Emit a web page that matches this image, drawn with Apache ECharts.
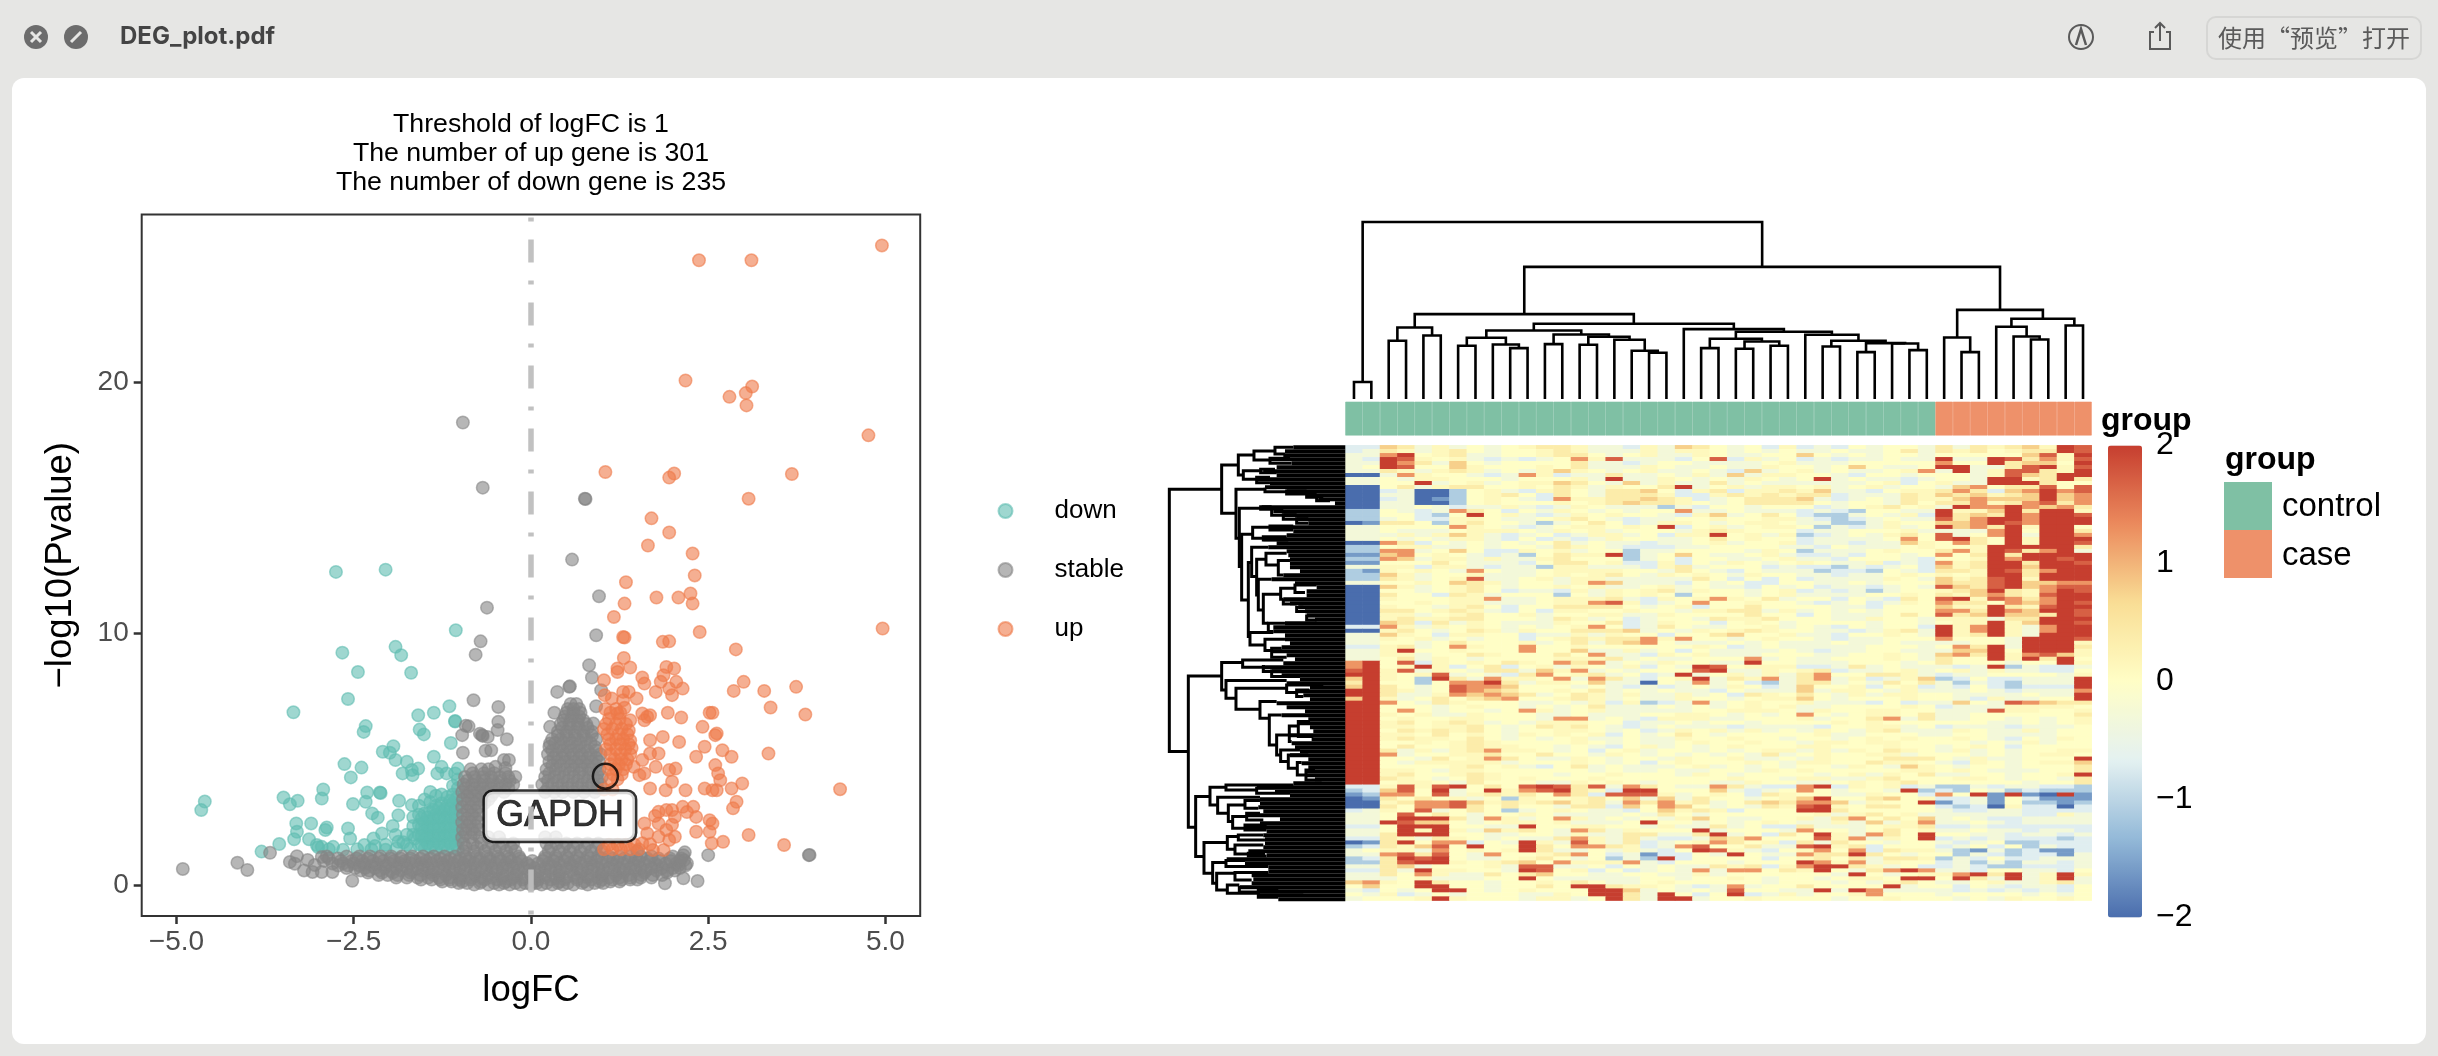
<!DOCTYPE html>
<html><head><meta charset="utf-8"><style>html,body{margin:0;background:#E6E6E4}#c{width:2438px;height:1056px}</style>
<script src="https://cdn.jsdelivr.net/npm/echarts@6/dist/echarts.min.js"></script></head><body><div id="c"></div>
<script>
const xTicks=[-5,-2.5,0,2.5,5], yTicks=[0,10,20];
const down=[-2.75,12.45,-2.05,12.54,-1.06,10.13,-1.91,9.47,-1.83,9.14,-2.66,9.24,-2.44,8.47,-1.69,8.44,-2.58,7.4,-3.35,6.87,-1.15,7.11,-1.37,6.85,-1.59,6.75,-1.07,6.52,-1.07,6.5,-2.33,6.32,-2.36,6.09,-1.57,6.18,-1.51,5.99,-1.13,5.65,-1.94,5.52,-2.09,5.3,-1.99,5.26,-1.91,4.97,-1.37,5.1,-1.75,4.9,-2.63,4.81,-2.39,4.67,-2.54,4.28,-1.81,4.44,-1.68,4.57,-1.67,4.37,-1.59,4.63,-1.32,4.44,-1.26,4.7,-1.19,4.44,-1.07,4.44,-1.03,4.63,-2.93,3.8,-2.95,3.44,-3.49,3.48,-3.29,3.35,-3.4,3.21,-4.6,3.32,-4.65,2.98,-2.31,3.68,-2.13,3.68,-2.12,3.66,-2.51,3.22,-2.33,3.31,-1.86,3.35,-1.68,3.18,-2.24,2.85,-2.16,2.68,-1.87,2.78,-3.31,2.45,-3.1,2.45,-2.88,2.29,-2.9,2.19,-3.3,2.12,-3.34,1.82,-3.55,1.63,-3.8,1.33,-3.13,1.82,-3.02,1.59,-2.95,1.52,-2.79,1.52,-2.58,2.25,-2.55,1.85,-2.35,1.59,-2.22,1.85,-2.1,2.05,-1.91,1.99,-1.87,1.72,-1.64,1.85,-2.05,1.6,-2.2,1.55,-1.75,1.6,-1.75,2.0,-1.8,1.7,-1.9,1.45,-2.05,1.4,-2.25,1.42,-2.45,1.42,-2.65,1.4,-2.85,1.42,-3,1.5,-1.7,1.45,-1.95,2.35,
-1.03,1.4,-1.03,1.75,-1.03,2.1,-1.03,2.45,-1.03,2.8,-1.03,3.15,-1.03,3.5,-1.03,3.85,-1.03,4.2,-1.1,1.5,-1.1,1.85,-1.1,2.2,-1.1,2.55,-1.1,2.9,-1.1,3.25,-1.1,3.6,-1.1,3.95,-1.18,1.4,-1.18,1.75,-1.18,2.1,-1.18,2.45,-1.18,2.8,-1.18,3.15,-1.18,3.5,-1.26,1.5,-1.26,1.85,-1.26,2.2,-1.26,2.55,-1.26,2.9,-1.26,3.25,-1.26,3.6,-1.34,1.4,-1.34,1.75,-1.34,2.1,-1.34,2.45,-1.34,2.8,-1.34,3.15,-1.34,3.55,-1.42,1.5,-1.42,1.85,-1.42,2.2,-1.42,2.55,-1.42,2.9,-1.42,3.3,-1.42,3.7,-1.5,1.45,-1.5,1.8,-1.5,2.15,-1.5,2.5,-1.5,2.85,-1.5,3.4,-1.58,1.6,-1.58,2.0,-1.58,2.4,-1.58,2.8,-1.58,3.15,-1.66,2.0,-1.66,2.35,-1.66,2.7,
-1.06,1.6,-1.06,2.0,-1.06,2.35,-1.06,2.7,-1.06,3.05,-1.06,3.4,-1.14,1.65,-1.14,2.0,-1.14,2.35,-1.14,2.7,-1.14,3.05,-1.14,3.35,-1.22,1.6,-1.22,1.95,-1.22,2.3,-1.22,2.65,-1.22,3.0,-1.3,1.65,-1.3,2.0,-1.3,2.35,-1.3,2.7,-1.3,3.05,-1.38,1.6,-1.38,1.95,-1.38,2.3,-1.38,2.65,-1.38,3.0,-1.46,1.65,-1.46,2.0,-1.46,2.35,-1.46,2.7,-1.54,1.6,-1.54,1.95,-1.54,2.3,-1.54,2.65];
const stableSparse=[-0.96,18.39,-0.68,15.8,0.76,15.36,0.77,15.35,0.58,12.94,-0.62,11.03,0.96,11.48,0.92,9.93,-0.71,9.69,-0.78,9.16,0.82,8.74,0.86,8.25,0.54,7.88,0.55,7.9,0.37,7.68,0.99,7.75,-0.81,7.35,-0.46,7.08,-0.46,6.49,-0.92,6.33,-0.88,6.31,-0.97,5.96,-0.69,5.96,-0.68,5.93,-0.72,6.02,-0.61,5.89,-0.34,5.8,-0.47,6.16,-0.64,5.34,-0.56,5.36,-0.96,5.26,-0.38,4.97,-0.31,4.97,-0.5,4.7,-0.36,4.65,0.33,6.85,0.27,6.29,0.27,5.63,0.92,7.11,0.88,6.42,-4.91,0.64,-4.14,0.89,-4,0.6,-3.68,1.28,-2.52,0.17,2.5,1.19,3.92,1.19,3.93,1.2,2.35,0.16,1.89,0.07,2.15,0.27,2.15,1.19,2.16,0.99,2.17,1.3,-3.4,0.92,-3.3,1.15,-3.33,0.85,-3.2,0.58,-3.08,0.52,-2.95,0.52,-2.8,0.52,-2.95,1.12,-3.15,1.0,-3.05,0.8];
const stableBand=[
[0.02,[-0.8,-0.6,-0.45,-0.3,-0.15,0,0.15,0.3,0.45,0.6,0.8]],
[0.08,[-1.02,-0.9,-0.72,-0.52,-0.38,-0.22,-0.08,0.08,0.22,0.38,0.52,0.72,0.9,1.02]],
[0.14,[-1.25,-1.12,-0.97,-0.7,-0.35,0.05,0.4,0.75,0.97,1.12,1.25]],
[0.22,[-1.55,-1.4,-1.28,-1.15,-1,-0.85,-0.65,-0.47,-0.28,-0.12,0.1,0.28,0.47,0.65,0.85,1,1.15,1.28,1.4,1.5]],
[0.3,[-1.9,-1.75,-1.6,-1.45,-1.3,-1.15,-1,-0.85,-0.7,-0.55,-0.4,-0.25,-0.1,0.05,0.2,0.35,0.5,0.65,0.8,0.95,1.1,1.25,1.4,1.55,1.7]],
[0.4,[-2.15,-2.02,-1.88,-1.72,-1.56,-1.38,-1.2,-1,-0.8,-0.6,-0.4,-0.2,0,0.2,0.4,0.6,0.8,1,1.2,1.38,1.56,1.72,1.85]],
[0.5,[-2.3,-2.1,-1.95,-1.7,-1.4,-1.1,-0.8,-0.5,-0.2,0.1,0.4,0.7,1,1.3,1.6,1.92]],
[0.58,[-2.4,-2.28,-2.13,-1.98,-1.83,-1.68,-1.53,-1.38,-1.23,-1.08,-0.93,-0.78,-0.63,-0.48,-0.33,-0.18,-0.03,0.12,0.27,0.42,0.57,0.72,0.87,1.02,1.17,1.32,1.47,1.62,1.77,1.92,2.03]],
[0.68,[-2.6,-2.48,-2.34,-2.2,-2.06,-1.9,-1.75,-1.6,-1.45,-1.3,-1.15,-1,-0.85,-0.7,-0.55,-0.4,-0.25,-0.1,0.05,0.2,0.35,0.5,0.65,0.8,0.95,1.1,1.25,1.4,1.55,1.7,1.85,2.0,2.1]],
[0.78,[-2.72,-2.58,-2.42,-2.25,-2.05,-1.82,-1.52,-1.22,-0.92,-0.62,-0.32,-0.02,0.28,0.58,0.88,1.18,1.48,1.78,2.08,2.18]],
[0.86,[-2.8,-2.65,-2.5,-2.35,-2.18,-2,-1.85,-1.7,-1.55,-1.4,-1.25,-1.1,-0.95,-0.8,-0.65,-0.5,-0.35,-0.2,-0.05,0.1,0.25,0.4,0.55,0.7,0.85,1,1.15,1.3,1.45,1.6,1.75,1.9,2.05,2.2]],
[0.96,[-2.92,-2.68,-2.53,-2.38,-2.23,-2.08,-1.93,-1.78,-1.63,-1.48,-1.33,-1.18,-1.03,-0.88,-0.73,-0.58,-0.43,-0.28,-0.13,0.02,0.17,0.32,0.47,0.62,0.77,0.92,1.07,1.22,1.37,1.52,1.67,1.82,1.97,2.1]],
[1.06,[-2.85,-2.72,-2.46,-2.3,-2.14,-1.98,-1.84,-1.7,-1.56,-1.42,-1.28,-1.14,-1,-0.86,-0.72,-0.58,-0.44,-0.3,-0.16,0.2,0.36,0.52,0.68,0.84,1,1.16,1.32,1.48,1.64,1.8,1.96,2.12]],
[1.14,[-2.88,-2.6,-2.42,-2.27,-2.12,-1.97,-1.82,-1.67,-1.52,-1.37,-1.22,-1.07,-0.92,-0.77,-0.62,-0.47,-0.32,-0.17,0.2,0.35,0.5,0.65,0.8,0.95,1.1,1.25,1.4,1.55,1.7,2.0]],
[1.35,[-0.95,-0.8,-0.65,-0.5,-0.35,-0.22,0.25,0.4,0.55,0.7,0.85,1.0,1.5]],
[1.5,[-0.92,-0.76,-0.6,-0.44,-0.28,0.28,0.46,0.6,0.76,0.92]],
[1.65,[-0.95,-0.82,-0.7,-0.55,-0.4,-0.25,0.22,0.36,0.5,0.65,0.8,0.95]],
[1.9,[-0.97,-0.85,-0.73,-0.6,-0.45,0.2,0.35]],[2.05,[-0.92,-0.8]],[2.2,[-0.96,-0.83,-0.72]],[2.35,[-0.9,-0.78]],[2.5,[-0.97,-0.86,-0.74]],[2.65,[-0.9,-0.78]],[2.8,[-0.96,-0.83,-0.72]],[2.95,[-0.9,-0.78]],[3.1,[-0.97,-0.85,-0.74]],[3.25,[-0.9,-0.78,-0.66]],[3.4,[-0.96,-0.84,-0.72,-0.6]],[3.55,[-0.9,-0.78,-0.68,-0.56]],
[3.7,[-0.97,-0.86,-0.75,-0.64,-0.52,-0.38,0.2,0.33,0.45,0.6,0.75,0.9]],[3.85,[-0.92,-0.8,-0.68,-0.56,-0.44,-0.32,0.24,0.38,0.52,0.66,0.8,0.94]],
[4.0,[-0.95,-0.83,-0.72,-0.6,-0.48,-0.36,-0.25,0.16,0.3,0.44,0.58,0.72,0.86,0.98]],[4.15,[-0.9,-0.78,-0.66,-0.54,-0.42,-0.3,0.24,0.38,0.52,0.66,0.8,0.94]],
[4.3,[-0.93,-0.8,-0.68,-0.56,-0.44,-0.32,-0.22,0.2,0.33,0.46,0.6,0.74,0.88,1.0]],[4.45,[-0.82,-0.66,-0.52,-0.36,0.26,0.4,0.54,0.68,0.82,0.94]],
[4.6,[-0.85,-0.7,-0.6,0.22,0.35,0.48,0.6,0.72,0.85,0.97]],[4.75,[0.3,0.42,0.56,0.68,0.8,0.92]],
[4.9,[0.26,0.38,0.5,0.62,0.74,0.86,0.96]],[5.05,[0.32,0.44,0.56,0.68,0.8,0.92]],[5.2,[0.24,0.36,0.48,0.6,0.72,0.84,0.98]],[5.35,[0.3,0.44,0.56,0.68,0.8,0.92]],[5.5,[0.26,0.4,0.52,0.64,0.76,0.9]],[5.65,[0.34,0.46,0.58,0.7,0.84]],[5.8,[0.3,0.42,0.54,0.66,0.78,0.92]],[5.95,[0.38,0.5,0.62,0.74,0.86]],[6.1,[0.38,0.5,0.62,0.74,0.86]],[6.25,[0.44,0.56,0.68,0.8]],[6.4,[0.42,0.54,0.66,0.78]],[6.55,[0.46,0.56,0.66,0.74]],[6.7,[0.48,0.58,0.68]],[6.85,[0.5,0.6,0.7]],[7.0,[0.52,0.6,0.68]],[7.2,[0.56,0.64]]];
const up=[4.95,25.43,2.37,24.84,3.11,24.84,2.18,20.06,3.12,19.82,3.03,19.56,2.8,19.41,3.04,19.07,4.76,17.88,1.05,16.42,2.02,16.36,1.95,16.2,3.68,16.34,3.07,15.36,1.7,14.58,1.95,14.02,1.65,13.5,2.28,13.18,2.31,12.31,1.34,12.04,1.77,11.43,2.08,11.43,2.25,11.59,2.28,11.19,1.32,11.19,1.17,10.66,4.96,10.2,2.38,10.06,1.3,9.86,1.32,9.84,1.86,9.67,1.95,9.69,2.89,9.37,1.31,9.03,1.22,8.61,1.4,8.65,1.22,8.47,1.91,8.67,2.02,8.61,1.87,8.34,1.57,8.25,1.83,8.08,2.05,8.08,1.6,8.01,2.14,7.81,1.76,7.68,1.95,7.81,1.99,7.55,3,8.08,2.86,7.72,3.29,7.72,3.74,7.88,3.38,7.06,3.87,6.78,1.3,7.68,1.38,7.68,1.49,7.42,1.03,8.14,1.04,7.55,1.14,7.42,1.3,7.35,1.22,6.82,1.57,6.82,1.68,6.75,1.64,6.69,1.6,6.55,1.93,6.85,2.12,6.66,2.42,6.29,2.52,6.85,2.56,6.85,2.6,5.96,2.62,6.03,2.45,5.5,2.33,5.1,2.7,5.36,2.83,5.1,3.35,5.23,2.6,4.77,2.64,4.44,2.67,4.17,2.62,3.77,2.56,3.77,2.45,3.84,2.83,3.84,2.98,4.04,4.36,3.81,2.18,3.77,1.68,3.84,1.9,3.77,1.99,4.11,1.68,5.76,1.86,5.89,2.09,5.69,1.57,4.97,1.68,5.23,1.8,5.23,1.76,4.7,1.95,4.57,2.04,4.63,1.45,4.7,1.53,4.37,1.6,4.44,2.9,3.31,2.85,3.05,2.29,3.11,2.14,3.11,1.91,2.98,1.8,2.91,2.03,2.71,2.33,2.71,2.56,2.45,2.52,2.58,2.33,2.12,2.52,2.12,2.71,1.72,2.55,1.66,3.07,1.99,3.57,1.59,2.03,1.92,1.91,2.19,1.8,1.92,1.95,1.79,1.72,1.39,1.87,1.39,1.6,2.45,1.8,2.45,1.99,2.98,1.64,2.05,1.57,1.66,1.68,1.62,1.99,2.4,1.75,2.75,2.2,2.9,
1.05,7,1.2,7,1.32,7.05,1.1,6.6,1.25,6.6,1.4,6.55,1.03,6.2,1.15,6.2,1.28,6.2,1.38,6.15,1.1,5.8,1.2,5.8,1.3,5.8,1.4,5.75,1.06,5.4,1.2,5.4,1.33,5.4,1.42,5.45,1.18,5,1.28,5,1.36,5,1.1,4.6,1.2,4.6,1.3,4.6,1.12,4.2,1.22,4.2,1.03,3.8,1.15,3.8,1.03,1.42,1.15,1.42,1.27,1.42,1.4,1.42,1.52,1.42,1.1,1.6,1.22,1.6,1.34,1.6,1.46,1.6,1.12,6.85,1.26,6.85,1.06,6.4,1.2,6.4,1.34,6.4,1.08,6,1.24,6,1.36,6,1.12,5.6,1.26,5.6,1.38,5.6,1.12,5.2,1.26,5.2,1.4,5.2,1.12,4.8,1.24,4.8,1.34,4.8,1.16,4.4,1.28,4.4];
const gapdh=[1.05,4.33];
const columnGroup=["control","control","control","control","control","control","control","control","control","control","control","control","control","control","control","control","control","control","control","control","control","control","control","control","control","control","control","control","control","control","control","control","control","control","case","case","case","case","case","case","case","case","case"];
const heatRows=[
"DD IHEGEFEF GHHGEEDG EIHFEFDG DEDFEFFE HEHGHIGLK","DE HGEGHFEF FGHGEEEG EGGFEFEF EEFEEFHE HGHFGHHLK","EE JLFGHEEF FGHHFEFG EEGFEEFF IFEFEFFE FFFFFIKGL","ED LKGFGEDE DEFJGKEE EDFKDGEF DEDEEFEE LEELKHJGK","EE LJHEIFEF FFFHEEDE FFEEEEFG EEEFFFFF JFFLHIIFL","EF LKFFIGFF FGFHEEEG FEEFEEGF FEFIFEEF LLEEHKLGK","EE HGEGHGEF EGIGFEFG EEFEDIEF GEFEEFGJ ELEGKKHGL","AA EJGFFEDE JGDEEHEE FEGEIEGG FFEDFFEF FFEGKIHLL","EE FEGGFFFE FFFGELEE GFEFEGFE FLEFEEDE FFELLGHLH","EE FFLEFGEF GGIHFEIE GEEHEFEE EEEEFGDF GEELLLHFF",
"AA FHEGHHFF GFHGEGFF HLEFGEGG FGEFGEFF EIJFHHKFK","AA DEAACFGE DGHFEHHI FDGHDGGH GIEEDFGG HJHDIJLJK","AA EEAACFGH FDHFEHHH GDDGHGHG HHDEEEHG IHIGHILIJ","AA DEABCFGF EDJGGHHI HGDEFHHH IEDEFEHG GIJIIILIJ","AA EEAACFGF FFGFGHIH HGFEFHHH HFEFFEHF HHJGHJKHJ","AA EEFEDEEG EDEGFEEE CEDFFEFF FDEFGHFG ELJJLJIJH","CC FEDEJHFD FEGFEFEF FJEEFEEE DEDCFFEE LGGILHLLG","CC FFDCFLFG EDEGFGFF EDGIEFHF DCCEFEGD LHIHLJLLK","CC EFDDGGFE EFGHFEDE EFFGFFGG EDCDEFEE KHJLLJLLL","AB HHFCGHFF ECEFHFDE GGFEFGGF EECCEGFF IIJLKJLLL",
"EE FFFFJGFE DEFGGFGF LDFGEFGG FCEDEGEF LIJHLGLLF","EE FEEEFGGG FEGFGEFF FEGHGFFF DEEFFFGE EEEJLFLLH","EE EGEGIGED EFDEGGEF DGGLFGEG CDEFEGHF KEFJLELLJ","EE FEFEGGED FDEDEGFF EEFHFGFF DEEEEFJF KLHFLGLLL","AA JHDFEFEF EFHEFEED EEFGEFFG DEEDEEIG FJHFLGLLK","CC FGGEEFEF FEHGFEDD DEEFFFFE EDFEEEFG FFGLLLLLH","CC JJEFIFDD GFGEFFCE EFFFFEGF CEEEFGFF HJGLKHJLE","BB IJFGFEDE CFHGGLCE FIFEEFGE DDEDFFEF JFHLHLLLL","CC JIEGGEGE EGHFFFCE FDFFEEFG EEDFFFED FFGLJLLKL","BB FFFHFEEE DFHHFGDD GDFEGFEF GFEEGDED JGHLLHLLK",
"EE GGDGGEDE ECGGEEED GHEFFFDE DDCEDEFD IGHLLILLL","CB GFGFEJFE EFGGGGFF EHFEDFEE ECDDCFED HHGLKHJLL","CC IGEFFGEE EFGFGHFE GFGFEGFF EEDEEFGF GFGLLHLLL","CC HGEFGKEE FGEGGEEE EEHFDFDF DEEEEGFE IGHKLGLLL","EE FFGFIHGE FFEGJIEE EDFEFDDF FEEFEFFF IHHKLIIJJ","AA IGEFGHFE FFGFGEEF GEFEEDFE FDEEDEFE KIHKLIJKK","AA FFEFGHFD EEDGEGFG HEGFFEFG DEDECEFF GHILHGJLK","AA HFFDHGEF FFCFEGFG FCFFFEFG EEEEFFGF HGIJHGKLL","AA GFFFGGJE EFGGGHED GFGJGFHE FFDFEDHF KLGKJHJLL","AA FFGFGGEE EFGGJKGD EFJFFGFF EDEFDEGF JHHFJIJLK",
"AA GFFEGHFD FFHHHHFE FGDFFHFF FFEEDFFF IGGLHGKLL","AA HHFGHGED FDGGFFGF FEGGHHEG EFEFEFFF JJHLJILLK","AA GGEFGHFF GEFFGGEE GFFFFHFF DFEEEFHF KHILIIHLK","AA GHGGHHFF FEHGEFDE FFEHGGHF FFEEGFFE GGGEHHLLL","AA IHDHEGFE EEGFFHDE GFFDFGFE FFFFEFFE FGGLGILLK","DD JGEGFGFE FEFGJFDE HFEEFFGE FEDFEFFD LGJLGEJLL","AA GHFEFHGE GFFHHHIE FEGFGHGF FEEDEGHE LGJLGEJLL","EE IGFDGGFF DEEGEGFF DFFHIFFG EEDFFGFE LGHLGELLL","EE GFGEFEFF DFGHGHHJ GJFFEFGF FEDEEFFF JFFFELLLK","EE FFEFHFFF GEFHEHIJ FEEEFEFE EEFEEFEE EEFFELLLG",
"DD GHEFJGFF JFFGFFFF FFGFDEFE EEEEFFFE FJHLELLLH","EE GLFFGFFF JFFIEEGE FDFEEEEF EDEEFFEE EIILFLLLG","EE GGEFFHGF FFHFJEED GFGEEEFF FEEFFGFE IJHLGJKIG","EE FHEGFEFF FFGGGHEF EEFFFJEF EEFFFGFE HFFLGLHLF","JL FKDGFGFH GFJHJEFE GFFEELFF EEEFFFEF HFFFEFFLG","JL FGLGDFHD FGEGFEGD FELKFGGG DDEHEFEE EDELCEDDE","KL GKEGFEHH EIGJEFEF FFKLEEGF GHDEEFGE FGEGEEDDF",
"LL GFGKEFED HJFGHEFD ELEFGEGE HJFFHHGE DEEFFFFEG","IL GFCLHEJG GFJEJHED FGLEHGJE HJEGDEGI CDFDDEEEL","HL FFCFJJLH EGGFIEEA FEJEFDCE HHEFEHFH ECEDCEEEL","IL HFEFKJJI FFFEFEDE DEFEGFDE IFFGDFGD EDFDCDDDL","LL HGEFKJIH FFGFHEFE FEEDFEEE IEGGFEGE EEFEDEEEJ","LL HEEGJIJI HEFHGEGE EGEFDHGF HFEGEGGF FEEEEFEEL","IL GEFHFHIJ FFGHGEFE EGFFEFGG IFEFFFGF FEDGEEFFL","LL JFEHGFFF EEFEGDGC DEJEFGFF GEEEDFDE EIFEKJIHH","LL FFFEFGFF EFEFHEEE FEFEFGFG EEFFFFGF DEEEGGGGF","LL FJFEFFEF JGEFGEEE EEFFGGGF EGFFGGFF EEEKGGFFG",
"LL GFGEEGFF FEEFEEEF FGGFEFEF JFEFGGFH EEFFFFFFH","LL FGFFGGFF FEJJEFED GGGEEFFF GEFFHJEH EEFFEFEFG","LL GHFGHGEF EGGGFFDE EFEFFEFF FFGFGFFF FFFEEFEFG","LL GGFGGHFE FHGHFEDE FEEEDEEE EDFFGGEF DEEEDEEEF","LL FHGHGHFE FFGGFEFD EGFGEGEF EGFEGHEE EGFEEGEFF","LL GGFHFGFE GFGFGDFE FHFEFFFF FGEEFFFE EFFEEEEFF","LL GHGGFHFE FEFGEEFE EGFFGFFE FFEFGFGF FGFEDFEGF","LL FFGFGHGF FFFGFEFE EFGFFGFF EGGFGGFF FFEFEGEFF","LL FHFFGHGG FFEFEDFG EFEFGFFF GGFFFGFF EFGFDFFFF","LL HEGEGHJG GFEFDFGE FFEFEFGG EGEGFHGF EGEFEFFGG",
"LL JEFFGGHF FHFFEGFE FEFEFEHE FGFFGGEF FFEFEFGGF","LL FFEHFGJH FEEGFEFF EGFFGEEF EGFFFHHH FEGEEFFFL","LL FEGGGGGE FFFGFEFD FGFFFGFE GGFFHGGF EDGFEFGGI","LL FFFFGHFG EDFHEFEE EFGEFEFE FFEGFEIG FEFFEFFFH","LL GGFEGGFF FFFFEFEE FEEFFEGF GFFFFFGG FGFEEEFFH","LL GHFFGHGF FFEFFGFF FEGFEFFF FEFGEGFH EEFFEFFGL","LL HGFEFHGF GFFFGFFF FFFFGFFE GGEEGHFF FGGFEFFEH","LL FGGFEHFF FEEGFGFE FFFEEGFF EEFGFGHF FFFFFEFFH","DD GKGKLFHF KLKHKEJH FEEJHEDD JLDGFGDE CCEDEEDDC","CD IKFLEFLG JKLHGDLL FFFIEDEF JFEFFELC DCFECDCCC",
"BC JJFKEGHG HFJHDKKK GEFGFDHG FFEEGFFD JFLBLBALB","AB HFHFGEFC GFFGHFIE IEHFFEFG ILFFHIFG DDEBFDBBB","AA GHJJKIGH GHIGHEJH JGHEFHIH JJIEGFFL BDEBFCCBC","AA HFJJKHFH FFEHHDIF JIFEFEHG KLGFHHFF DCDAGDDAD","DE GFKEFHFC EFGFEEDF IGHGDFFF LLHFFFFF EDDEEDDDD","EE FKFHFEFF GFEEEEFE HFEFFFFF FGEGHFGE EEEEEDDGE","EE FLLLHEJG EFJGEFEF EGIFEEFF GEHJFHFI EFEDDEEEE","EE LKIIFEFG GFGEEEFL FFEFEFGF EEGEIEGJ EEFEDEEEE","DD FLLLFFEE LFFGGFFE GEEHEFDD HEEEFGGH DDEDDDDDD","EE FLGLGEIG HFEJHEGF FFLEFFFE JFFEFHFG EEFEEDEED",
"EE HLLLFFEE FFEGEEHH EEHLEFDH FLGEJHFL FFEEDEEDE","DD HGEHGFEF EEHJGEHE DDEIHJFF FKGJEGFL DEDEDDDCD","AB HLFJJDFE LGEKGEHD EFGJHFGD HEHFFEFF EDEFCCDDD","CD HGIKFLFF LHFJJHGD EJKFFHEE KLGHDFFF DEFDFCEDD","EF GGEJFGFG LHEEFEGE DFLKGEDF GJFJDHGG ECBECDBBD","EE JKHKFEJF FGHJFDEB DDFELFEE JHHLHFEF FCEDCDDBE","CD HLKLFEEF GHFEFCEC LDFFFFDF GHFHEHHG CEDFDDEEE","CC HKLLGFGH IFJGGGJE DFFFEFFF LJGJEGFF DECECEEDE","EE HIEFFFGE KKEEFDFE FEEHGHDG JLLHGEFD DEDCCDDDE","DD HELGGFFE LKFGDFDE FEJEJJFH GLFEHJLJ EEDFFEEDF",
"EE HFJGEEHF HIFFEEFF EEGEFFFF FFELFEFG GJLHLEGLG","EE EFGEEEFF LFEEEEEF FEFFGFEF FEFGGFLL FLHELEGLE","IJ GFLHFFEF FGFHFEEF GFFFFFEF FFEFEGHF EEFGEEGHE","FI FFLLFFEF FHFLLHGG FEDEJEFF HFFFFLEF FDFEDEEDF","ED FEFLLFEF GFFFLLIE FEFEKFFE ELELJEEE EDEDEDEDF","FE GDEFEFFF EEGFLLHE LFDFLDEG EFFGJFFF EFFFFEFEF","EF FFGLGFFF EGGEFLHE LLEFFGFF FFEFFGFF FEFEGFFGF"];
const levelValues={A:-2,B:-1.6,C:-1.1,D:-0.7,E:-0.3,F:0,G:0.12,H:0.38,I:0.78,J:1.25,K:1.7,L:2};
const heatColors=["#4A6DAD","#93B9D8","#E4F1F1","#FFFEC6","#F9DE95","#EB8A5D","#C63E2F"];
// column dendrogram: [left, right, height]; negative = -(merge index + 1)
const columnMerges=[[0,1,547],[2,3,423],[4,5,407],[-2,-3,383],[6,7,438],[9,10,445],[8,-6,434],[-5,-7,414],[11,12,433],[13,14,435],[17,18,459],[16,-11,453],[15,-12,420],[-10,-13,411],[-9,-14,404],[-8,-15,392],[20,21,445],[22,23,447],[24,25,438],[-18,-19,425],[-17,-20,417],[27,28,440],[29,30,457],[32,33,451],[31,-24,431],[-23,-25,430],[-22,-26,423],[26,-27,405],[-21,-28,396],[19,-29,388],[-16,-30,372],[-4,-31,343],[35,36,457],[34,-33,413],[39,40,419],[38,-35,410],[37,-36,381],[41,42,377],[-37,-38,357],[-34,-39,330],[-32,-40,201],[-1,-41,66]];
// row dendrogram brackets: [depth, topPos, topDepth, bottomPos, bottomDepth]
const rowBrackets=[[58,148,215,935,115],[215,75,265,220,258],[265,45,312,105,280],[312,33,375,60,360],[375,22,430,42,405],[360,55,420,70,425],[280,92,332,118,320],[332,88,375,98,380],[320,112,360,128,360],[258,148,345,295,268],[345,143,345,155,410],[410,153,470,162,470],[470,160,500,172,500],[500,170,520,182,540],[268,205,332,380,275],[332,200,365,208,370],[365,206,400,226,400],[400,224,440,238,440],[440,236,475,250,475],[275,283,308,480,295],[308,262,360,295,340],[360,258,430,270,430],[340,290,410,300,415],[295,368,305,590,300],[305,322,355,410,320],[320,358,348,465,325],[348,340,410,375,385],[385,362,420,405,400],[325,418,365,510,340],[340,463,392,550,355],[392,445,435,478,400],[435,435,500,458,465],[400,480,420,492,440],[440,502,460,515,470],[470,528,495,540,500],[355,550,405,575,370],[300,578,370,615,345],[345,598,405,632,365],[365,625,395,652,410],
[115,708,215,1162,137],[215,668,278,750,228],[278,660,400,682,340],[340,680,345,695,365],[365,693,395,710,450],[228,722,410,775,258],[258,745,410,808,330],[410,735,520,758,440],[440,750,478,770,460],[330,785,380,835,358],[358,825,395,915,380],[380,885,418,945,392],[418,858,445,905,425],[445,845,480,890,490],[392,930,450,965,415],[415,945,475,985,442],[442,968,455,1005,468],[468,990,495,1020,515],
[137,1070,180,1250,162],[180,1042,228,1095,203],[228,1035,430,1050,320],[320,1045,375,1060,420],[203,1072,330,1120,235],[235,1095,285,1145,248],[285,1082,330,1105,325],[248,1130,290,1165,285],[290,1120,330,1140,340],[285,1155,350,1170,350],[162,1208,232,1300,188],[232,1190,265,1228,255],[265,1185,340,1200,345],[255,1215,340,1242,295],[295,1240,345,1248,350],[188,1268,228,1330,200],[228,1262,285,1280,355],[200,1300,255,1350,232],[255,1298,355,1320,305],[232,1335,268,1360,325],[268,1342,305,1356,460],[325,1352,385,1372,385]];
const rowLeafStart=[430,405,400,360,425,380,340,380,320,360,345,410,470,505,555,335,370,400,440,475,360,430,410,340,380,355,410,415,420,420,420,450,400,365,435,500,470,470,400,420,445,465,470,495,405,370,370,405,405,420,395,365,410,435,400,340,365,395,450,410,480,440,460,480,380,410,465,395,475,445,480,490,420,485,425,435,450,420,475,455,475,470,470,495,430,320,375,420,330,330,325,340,290,390,330,285,350,340,345,345,340,295,350,230,285,355,355,305,310,305,270,325,325,385];

const pairs=a=>{const o=[];for(let i=0;i<a.length;i+=2)o.push([a[i],a[i+1]]);return o;};
const stable=pairs(stableSparse);stableBand.forEach(([y,xs])=>xs.forEach(x=>stable.push([x,y])));
const heatData=[];heatRows.forEach((s,r)=>{[...s.replace(/ /g,'')].forEach((c,j)=>heatData.push([j,r,levelValues[c]]));});
const nodePos=[];const colSegs=columnMerges.map((m,k)=>{
 const p=v=>v>=0?[v+0.5,598]:nodePos[-v-1];const a=p(m[0]),b=p(m[1]);nodePos[k]=[(a[0]+b[0])/2,m[2]];
 return [a[0],a[1],a[0],m[2],b[0],m[2],b[0],b[1]];});
const rowSegs=rowBrackets.map(b=>[b[2],b[1],b[0],b[1],b[0],b[3],b[4],b[3]]);
const polyItem=w=>(p,api)=>{const pts=[];for(let i=0;i<8;i+=2)pts.push(api.coord([api.value(i),api.value(i+1)]));
 return {type:'polyline',shape:{points:pts},style:{stroke:'#000',lineWidth:w,fill:null},silent:true};};
const fmtMinus=s=>String(s).replace('-','\u2212');
const F='Liberation Sans';
const hidden=(g,extra)=>Object.assign({gridIndex:g,show:false},extra);
const dot=(name,data,color)=>({name,type:'scatter',xAxisIndex:0,yAxisIndex:0,data,symbolSize:12.5,itemStyle:{color,opacity:0.6,borderColor:color,borderWidth:1.5},silent:true,animation:false});
const option={animation:false,backgroundColor:'#E6E6E4',textStyle:{fontFamily:F},
title:{text:'Threshold of logFC is 1\nThe number of up gene is 301\nThe number of down gene is 235',left:531,top:110,padding:0,textAlign:'center',textStyle:{fontFamily:F,fontSize:26.7,lineHeight:29,fontWeight:'normal',color:'#000'}},
legend:{data:['down','stable','up'],orient:'vertical',left:997.5,top:498,padding:0,itemWidth:58,itemHeight:14,itemGap:33,selectedMode:false,textStyle:{fontFamily:F,fontSize:26,color:'#000',padding:[0,0,0,15]}},
grid:[{left:141.7,top:214.5,width:778.5,height:701.5,show:true,borderColor:'#333',borderWidth:2,backgroundColor:'#fff'},
{left:1345.3,top:222,width:746.4,height:177},{left:1345.3,top:401.7,width:746.4,height:33.8},{left:1150,top:445.3,width:195.3,height:455.3},{left:1345.3,top:445.3,width:746.4,height:455.3},{left:2108,top:445.5,width:34,height:472}],
xAxis:[{type:'value',min:-5.49,max:5.49,splitLine:{show:false},axisLine:{show:false,onZero:false},axisTick:{show:true,length:8,lineStyle:{color:'#333',width:2.5},customValues:xTicks},axisLabel:{customValues:xTicks,fontSize:28,color:'#4D4D4D',margin:12,formatter:v=>fmtMinus(v.toFixed(1))},name:'logFC',nameLocation:'middle',nameGap:56,nameTextStyle:{fontSize:36.5,color:'#000'}},
hidden(1,{type:'value',min:0,max:43}),hidden(2,{type:'category',data:columnGroup.map((g,i)=>i)}),hidden(3,{type:'value',min:0,max:586}),hidden(4,{type:'category',data:columnGroup.map((g,i)=>i)}),hidden(5,{type:'value',min:0,max:1})],
yAxis:[{type:'value',min:-1.23,max:26.66,splitLine:{show:false},axisLine:{show:false,onZero:false},axisTick:{show:true,length:8,lineStyle:{color:'#333',width:2.5},customValues:yTicks},axisLabel:{customValues:yTicks,fontSize:28,color:'#4D4D4D',margin:13},name:'\u2212log10(Pvalue)',nameLocation:'middle',nameGap:62,nameTextStyle:{fontSize:36.5,color:'#000'}},
hidden(1,{type:'value',min:66,max:598,inverse:true}),hidden(2,{type:'value',min:0,max:1}),hidden(3,{type:'value',min:16,max:1382,inverse:true}),hidden(4,{type:'category',inverse:true,data:heatRows.map((r,i)=>i)}),
{gridIndex:5,type:'value',position:'right',min:-2,max:2,interval:1,splitLine:{show:false},axisLine:{show:false},axisTick:{show:false},axisLabel:{fontSize:32,color:'#000',margin:14,padding:[6,0,0,0],formatter:v=>fmtMinus(v)}}],
visualMap:[{type:'continuous',seriesIndex:5,dimension:2,min:-2,max:2,left:2108,top:445.5,padding:0,itemWidth:34,itemHeight:472,calculable:false,hoverLink:false,inRange:{color:heatColors},text:null,showLabel:false,borderWidth:0}],
series:[dot('down',pairs(down),'#5FBDB0'),dot('stable',stable,'#868686'),dot('up',pairs(up),'#EE7A4A'),
{name:'GAPDH',type:'scatter',z:5,xAxisIndex:0,yAxisIndex:0,data:[gapdh],symbolSize:25,silent:true,itemStyle:{color:'rgba(0,0,0,0)',borderColor:'#000',borderWidth:2.5},
 label:{show:true,formatter:'GAPDH',position:'inside',offset:[-45.5,40],fontFamily:F,fontSize:36,color:'#000',textBorderColor:'#000',textBorderWidth:0.7,backgroundColor:'#fff',borderColor:'#000',borderWidth:2.5,borderRadius:8,padding:[8,11,5,11]}},
{name:'threshold',type:'scatter',z:6,xAxisIndex:0,yAxisIndex:0,data:[],silent:true,markLine:{silent:true,symbol:'none',label:{show:false},z:6,lineStyle:{color:'#BEBEBE',width:5.5,type:[23,18,4,18],dashOffset:38,opacity:0.95},data:[[{xAxis:0,yAxis:26.66},{xAxis:0,yAxis:-1.23}]]}},
{name:'expression',type:'heatmap',xAxisIndex:4,yAxisIndex:4,data:heatData,progressive:0,silent:true,itemStyle:{borderWidth:0}},
{name:'columnDendrogram',type:'custom',xAxisIndex:1,yAxisIndex:1,data:colSegs,renderItem:polyItem(2.6),silent:true,clip:false},
{name:'rowDendrogram',type:'custom',xAxisIndex:3,yAxisIndex:3,data:rowSegs,renderItem:polyItem(3),silent:true,clip:false},
{name:'rowLeaves',type:'custom',xAxisIndex:3,yAxisIndex:3,data:rowLeafStart.map((x,r)=>[x,22+12*r]),silent:true,
 renderItem:(p,api)=>{const a=api.coord([api.value(0),api.value(1)-6]),b=api.coord([586,api.value(1)+6]);return {type:'rect',shape:{x:a[0],y:a[1],width:b[0]-a[0],height:b[1]-a[1]},style:{fill:'#000'}};}},
{name:'group',type:'bar',xAxisIndex:2,yAxisIndex:2,barWidth:'100%',silent:true,data:columnGroup.map(g=>{const c=g==='control'?'#7FC0A4':'#EE916A';return {value:1,itemStyle:{color:c,borderColor:c,borderWidth:0.6}};})}],
graphic:[
{type:'rect',z:-10,shape:{x:12,y:78,width:2414,height:966,r:12},style:{fill:'#fff'},silent:true},
{type:'circle',shape:{cx:36,cy:37,r:12},style:{fill:'#6C6C6C'},silent:true},
{type:'line',shape:{x1:31,y1:32,x2:41,y2:42},style:{stroke:'#E6E6E4',lineWidth:3},silent:true},
{type:'line',shape:{x1:41,y1:32,x2:31,y2:42},style:{stroke:'#E6E6E4',lineWidth:3},silent:true},
{type:'circle',shape:{cx:76,cy:37,r:12},style:{fill:'#6C6C6C'},silent:true},
{type:'line',shape:{x1:71,y1:42,x2:81,y2:32},style:{stroke:'#E6E6E4',lineWidth:3},silent:true},
{type:'text',x:120,y:37,style:{text:'DEG_plot.pdf',font:'bold 24px Inter, "Liberation Sans"',fill:'#444',textVerticalAlign:'middle'},silent:true},
{type:'circle',shape:{cx:2081,cy:37,r:12},style:{fill:null,stroke:'#5a5a5a',lineWidth:2},silent:true},
{type:'polyline',shape:{points:[[2076,45],[2081,29],[2086,45]]},style:{fill:null,stroke:'#5a5a5a',lineWidth:2.5},silent:true},
{type:'polyline',shape:{points:[[2154,32],[2150,32],[2150,49],[2170,49],[2170,32],[2166,32]]},style:{fill:null,stroke:'#5a5a5a',lineWidth:2},silent:true},
{type:'line',shape:{x1:2160,y1:23,x2:2160,y2:41},style:{stroke:'#5a5a5a',lineWidth:2},silent:true},
{type:'polyline',shape:{points:[[2155,28],[2160,23],[2165,28]]},style:{fill:null,stroke:'#5a5a5a',lineWidth:2},silent:true},
{type:'rect',shape:{x:2207,y:17,width:214,height:42,r:9},style:{fill:'#E6E6E4',stroke:'#D6D6D4',lineWidth:2},silent:true},
{type:'text',x:2314,y:38,style:{text:'使用“预览”打开',font:'24px "Noto Sans CJK SC"',fill:'#5a5a5a',textAlign:'center',textVerticalAlign:'middle'},silent:true},
{type:'text',x:2101,y:421,style:{text:'group',font:'bold 32px "Liberation Sans"',fill:'#000',textVerticalAlign:'middle'},silent:true},
{type:'text',x:2225,y:460,style:{text:'group',font:'bold 32px "Liberation Sans"',fill:'#000',textVerticalAlign:'middle'},silent:true},
{type:'rect',shape:{x:2224,y:482,width:48,height:48},style:{fill:'#7FC0A4'},silent:true},
{type:'rect',shape:{x:2224,y:530,width:48,height:48},style:{fill:'#EE916A'},silent:true},
{type:'text',x:2282,y:507,style:{text:'control',font:'33px "Liberation Sans"',fill:'#000',textVerticalAlign:'middle'},silent:true},
{type:'text',x:2282,y:556,style:{text:'case',font:'33px "Liberation Sans"',fill:'#000',textVerticalAlign:'middle'},silent:true}]};
const chart=echarts.init(document.getElementById('c'));chart.setOption(option);
</script></body></html>
